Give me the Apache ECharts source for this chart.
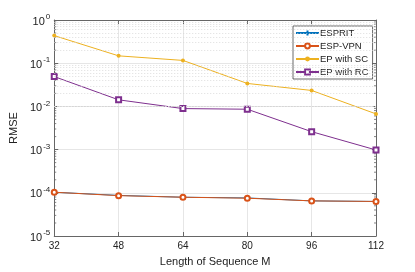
<!DOCTYPE html>
<html><head><meta charset="utf-8">
<script src="https://cdn.jsdelivr.net/npm/echarts@6/dist/echarts.min.js"></script>
<style>html,body{margin:0;padding:0;background:#fff}#c{width:415px;height:272px}</style>
</head><body><div id="c"></div>
<script>
const categories = [32, 48, 64, 80, 96, 112];
const esprit = [1.03e-4, 8.7e-5, 7.9e-5, 7.6e-5, 6.5e-5, 6.3e-5];
const espVpn = [1.03e-4, 8.6e-5, 7.9e-5, 7.5e-5, 6.5e-5, 6.3e-5];
const epSC = [0.435, 0.148, 0.116, 0.034, 0.0234, 0.0067];
const epRC = [0.049, 0.0142, 0.0089, 0.0086, 0.0026, 0.00098];
const xTicks = [32, 48, 64, 80, 96, 112];

const minorVals = [];
for (let d = -5; d < 0; d++) for (let m = 2; m <= 9; m++) minorVals.push(m * Math.pow(10, d));

const font = 'Liberation Sans, Arial, sans-serif';
const axisColor = '#666';
const plusPath = 'path://M5,0L5,10M0,5L10,5';
const pts = arr => categories.map((c, i) => [c, arr[i]]);

const chart = echarts.init(document.getElementById('c'));
chart.setOption({
  animation: false,
  textStyle: { fontFamily: font },
  grid: { left: 54, right: 39, top: 20, bottom: 31 },
  legend: {
    orient: 'vertical', left: 293, top: 26,
    backgroundColor: '#fff', borderColor: '#444', borderWidth: 0.8,
    padding: [2, 4, 2, 2], itemGap: 3, itemWidth: 23, itemHeight: 6,
    textStyle: { fontSize: 9.5, color: '#222', fontFamily: font, padding: [0, 0, 0, -4] },
    data: ['ESPRIT', 'ESP-VPN', 'EP with SC', 'EP with RC']
  },
  xAxis: [{
    type: 'value', min: 32, max: 112, interval: 16,
    name: 'Length of Sequence M', nameLocation: 'middle', nameGap: 20,
    nameTextStyle: { fontSize: 11, color: '#222' },
    axisLine: { lineStyle: { color: axisColor } },
    axisTick: { inside: true, length: 4, lineStyle: { color: axisColor } },
    axisLabel: { fontSize: 10, color: '#222', margin: 5 },
    splitLine: { show: true, lineStyle: { color: '#e6e6e6', width: 1 } }
  }, {
    type: 'value', min: 32, max: 112, interval: 16, position: 'top',
    axisLine: { show: true, lineStyle: { color: axisColor } },
    axisTick: { inside: true, length: 4, lineStyle: { color: axisColor } },
    axisLabel: { show: false }, splitLine: { show: false }
  }],
  yAxis: [{
    type: 'log', logBase: 10, min: 1e-5, max: 1,
    name: 'RMSE', nameLocation: 'middle', nameGap: 31, nameRotate: 90,
    nameTextStyle: { fontSize: 11, color: '#222' },
    axisLine: { show: true, lineStyle: { color: axisColor } },
    axisTick: { inside: true, length: 4, lineStyle: { color: axisColor } },
    axisLabel: {
      margin: 4,
      formatter: v => '{b|10}{s|' + Math.round(Math.log10(v)) + '}',
      rich: { b: { fontSize: 11, color: '#222', fontFamily: font, verticalAlign: 'bottom', lineHeight: 12 },
              s: { fontSize: 8, color: '#222', fontFamily: font, verticalAlign: 'top', padding: [0, 0, 6, 1] } }
    },
    splitLine: { show: true, lineStyle: { color: '#e6e6e6', width: 1 } }
  }, {
    type: 'log', logBase: 10, min: 1e-5, max: 1, position: 'right',
    axisLine: { show: true, lineStyle: { color: axisColor } },
    axisTick: { inside: true, length: 4, lineStyle: { color: axisColor } },
    axisLabel: { show: false }, splitLine: { show: false }
  }],
  series: [
    { type: 'line', silent: true, data: [], markLine: {
        silent: true, symbol: 'none', label: { show: false },
        lineStyle: { color: '#d4d4d4', type: [1, 2], width: 0.8 },
        data: minorVals.map(v => ({ yAxis: v }))
      } },
    { type: 'custom', silent: true, data: minorVals, z: 3,
      encode: { y: 0 },
      renderItem: (params, api) => {
        const v = api.value(0);
        const pL = api.coord([32, v]);
        const pR = api.coord([112, v]);
        const st = { stroke: axisColor, lineWidth: 0.8 };
        return { type: 'group', children: [
          { type: 'line', shape: { x1: pL[0], y1: pL[1], x2: pL[0] + 2, y2: pL[1] }, style: st },
          { type: 'line', shape: { x1: pR[0], y1: pR[1], x2: pR[0] - 2, y2: pR[1] }, style: st }
        ] };
      } },
    { name: 'ESPRIT', type: 'line', data: pts(esprit), color: '#0072BD',
      symbol: plusPath, symbolSize: 5,
      lineStyle: { width: 1 }, itemStyle: { color: '#0072BD', borderColor: '#0072BD', borderWidth: 1 } },
    { name: 'ESP-VPN', type: 'line', data: pts(espVpn), color: '#D95319',
      symbol: 'emptyCircle', symbolSize: 5,
      lineStyle: { width: 1 }, itemStyle: { color: '#D95319', borderWidth: 1.2 } },
    { name: 'EP with SC', type: 'line', data: pts(epSC), color: '#EDB120',
      symbol: 'circle', symbolSize: 4,
      lineStyle: { width: 1 }, itemStyle: { color: '#EDB120' } },
    { name: 'EP with RC', type: 'line', data: pts(epRC), color: '#7E2F8E',
      symbol: 'emptyRect', symbolSize: 5,
      lineStyle: { width: 1 }, itemStyle: { color: '#7E2F8E', borderWidth: 1.1 } }
  ]
});
</script></body></html>
